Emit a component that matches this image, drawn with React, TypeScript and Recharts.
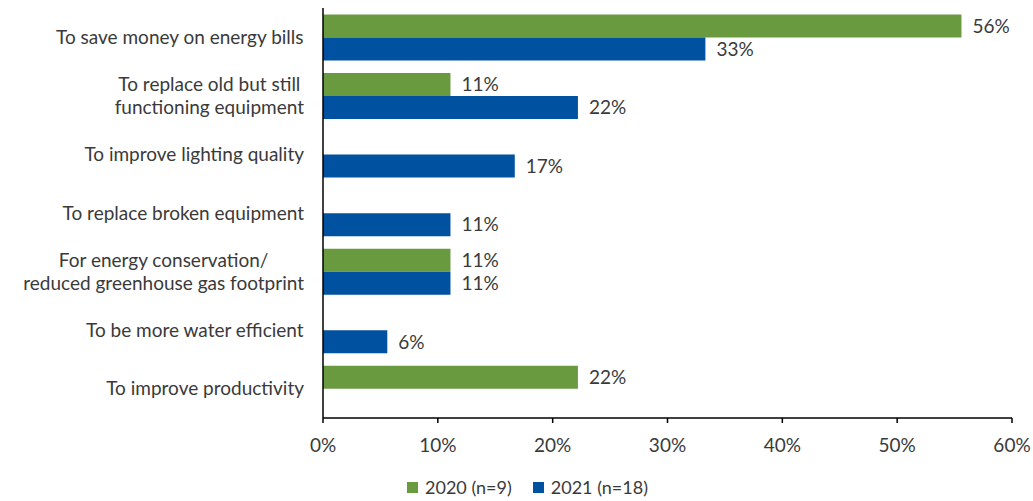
import { BarChart, Bar, XAxis, YAxis, Legend, LabelList } from 'recharts';

const categories = [
  'To save money on energy bills',
  'To replace old but still\nfunctioning equipment',
  'To improve lighting quality',
  'To replace broken equipment',
  'For energy conservation/\nreduced greenhouse gas footprint',
  'To be more water efficient',
  'To improve productivity',
];
const values2020 = [55.6, 11.1, null, null, 11.1, null, 22.2];
const values2021 = [33.3, 22.2, 16.7, 11.1, 11.1, 5.6, null];
const xTicks = [0, 10, 20, 30, 40, 50, 60];
const seriesNames = ['2020 (n=9)', '2021 (n=18)'];

const data = categories.map((name, i) => ({
  name,
  y2020: values2020[i],
  y2021: values2021[i],
}));

const FONT = 'Lato, "Open Sans", sans-serif';
const FS = 19;
const GREEN = '#6A9A40';
const BLUE = '#0052A1';
const TEXT = '#3a3a3a';

let ctx: CanvasRenderingContext2D | null = null;
const measure = (s: string) => {
  if (!ctx) {
    ctx = document.createElement('canvas').getContext('2d');
  }
  if (!ctx) return s.length * 9;
  ctx.font = `${FS}px Lato`;
  return ctx.measureText(s).width;
};

// multi-line labels: block right-aligned, lines centred inside it
const CategoryTick = (props: any) => {
  const { y, payload } = props;
  const lines: string[] = String(payload.value).split('\n');
  const maxW = Math.max(...lines.map(measure));
  const cx = 304 - maxW / 2;
  return (
    <text textAnchor="middle" fontSize={FS} fontFamily={FONT} fill={TEXT}>
      {lines.map((l, i) => (
        <tspan key={i} x={cx} y={y + (i - (lines.length - 1) / 2) * 23} dy="0.35em">
          {l}
        </tspan>
      ))}
    </text>
  );
};

const LegendContent = () => (
  <div
    style={{
      display: 'flex',
      justifyContent: 'center',
      gap: 21,
      paddingLeft: 43,
      fontSize: 18,
      fontFamily: FONT,
      color: TEXT,
    }}
  >
    {seriesNames.map((n, i) => (
      <div key={n} style={{ display: 'flex', alignItems: 'center', gap: 7 }}>
        <span style={{ width: 11, height: 11, background: i === 0 ? GREEN : BLUE, display: 'inline-block' }} />
        <span>{n}</span>
      </div>
    ))}
  </div>
);

const pct = (v: any) => (v == null ? '' : `${Math.round(v)}%`);

export default function App() {
  return (
    <div style={{ position: 'absolute', left: 0, top: 0, background: '#fff' }}>
      <BarChart
        width={1033}
        height={501}
        data={data}
        layout="vertical"
        margin={{ top: 8, right: 21, left: 0, bottom: 0 }}
        barCategoryGap="11%"
        barGap={0}
      >
        <XAxis
          type="number"
          domain={[0, 60]}
          ticks={xTicks}
          tickFormatter={(v) => `${v}%`}
          height={40}
          tickSize={5}
          tickMargin={16}
          axisLine={{ stroke: '#000', strokeWidth: 1.5 }}
          tickLine={{ stroke: '#000', strokeWidth: 1.5 }}
          tick={{ fontSize: FS, fontFamily: FONT, fill: TEXT }}
        />
        <YAxis
          type="category"
          dataKey="name"
          width={323}
          tickLine={false}
          axisLine={{ stroke: '#000', strokeWidth: 1.5 }}
          tick={<CategoryTick />}
          interval={0}
        />
        <Legend
          verticalAlign="bottom"
          height={43}
          content={<LegendContent />}
          wrapperStyle={{ paddingTop: 18, boxSizing: 'border-box' }}
        />
        <Bar dataKey="y2020" name={seriesNames[0]} fill={GREEN} isAnimationActive={false}>
          <LabelList dataKey="y2020" position="right" offset={11} formatter={pct} fontSize={FS} fontFamily={FONT} fill={TEXT} />
        </Bar>
        <Bar dataKey="y2021" name={seriesNames[1]} fill={BLUE} isAnimationActive={false}>
          <LabelList dataKey="y2021" position="right" offset={11} formatter={pct} fontSize={FS} fontFamily={FONT} fill={TEXT} />
        </Bar>
      </BarChart>
    </div>
  );
}
